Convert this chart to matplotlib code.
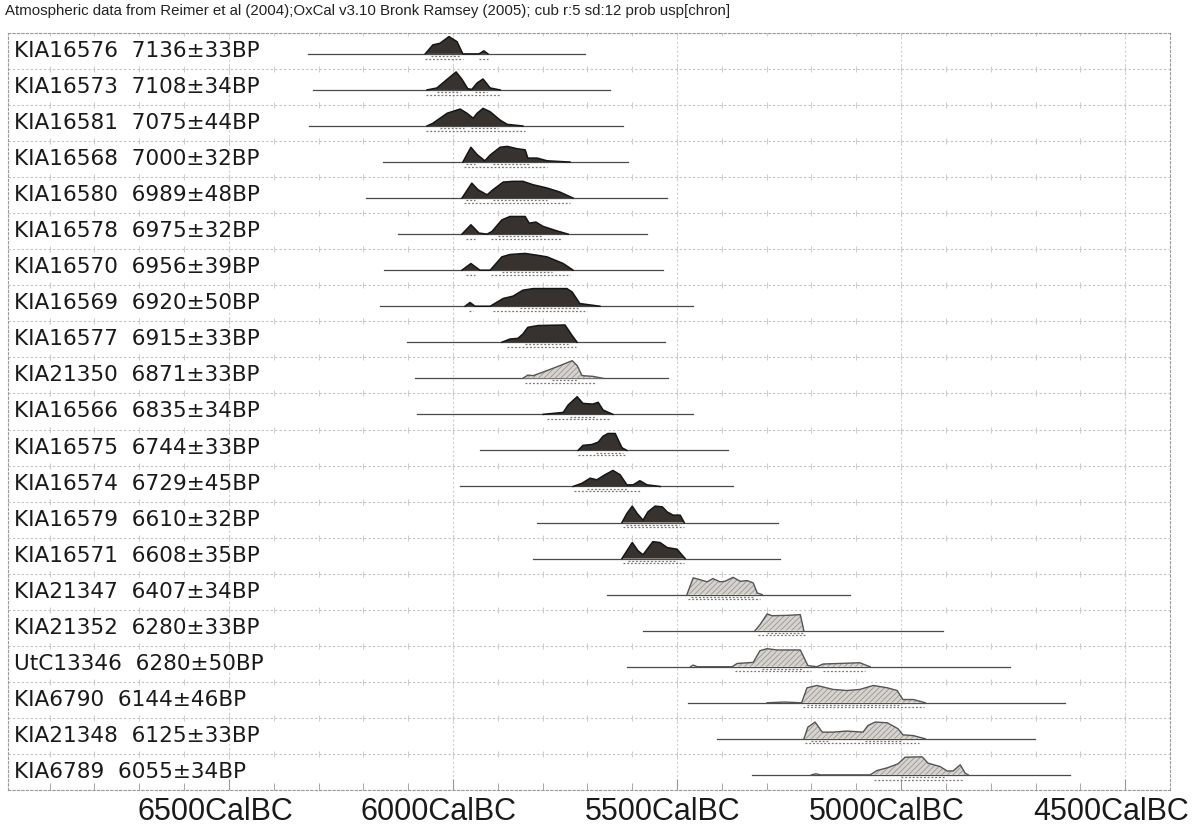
import matplotlib
matplotlib.use("Agg")
import matplotlib.pyplot as plt
import matplotlib.transforms as mtransforms
import numpy as np

# ---------------- data ----------------
title = ("Atmospheric data from Reimer et al (2004);OxCal v3.10 Bronk Ramsey (2005); "
         "cub r:5 sd:12 prob usp[chron]")

labels = [
    "KIA16576  7136±33BP", "KIA16573  7108±34BP", "KIA16581  7075±44BP",
    "KIA16568  7000±32BP", "KIA16580  6989±48BP", "KIA16578  6975±32BP",
    "KIA16570  6956±39BP", "KIA16569  6920±50BP", "KIA16577  6915±33BP",
    "KIA21350  6871±33BP", "KIA16566  6835±34BP", "KIA16575  6744±33BP",
    "KIA16574  6729±45BP", "KIA16579  6610±32BP", "KIA16571  6608±35BP",
    "KIA21347  6407±34BP", "KIA21352  6280±33BP", "UtC13346  6280±50BP",
    "KIA6790  6144±46BP", "KIA21348  6125±33BP", "KIA6789  6055±34BP",
]

# True = light (hatched) distribution, False = dark
light = [False, False, False, False, False, False, False, False, False, True,
         False, False, False, False, False, True, True, True, True, True, True]

# extent of the thin baseline of every row (cal BC)
line_start = [6324, 6312, 6321, 6156, 6194, 6123, 6154, 6163, 6103, 6085, 6080,
              5940, 5984, 5813, 5821, 5656, 5576, 5612, 5475, 5411, 5333]
line_end = [5705, 5650, 5621, 5609, 5522, 5567, 5531, 5464, 5527, 5520, 5464,
            5386, 5375, 5275, 5270, 5114, 4906, 4757, 4634, 4701, 4623]

# probability distributions: years (cal BC) and relative probability
dist_years = [
    [6062, 6045, 6029, 6009, 5991, 5978, 5942, 5931, 5922],
    [6058, 6036, 6013, 5993, 5980, 5967, 5958, 5946, 5933, 5917, 5895],
    [6058, 6045, 6013, 5984, 5969, 5955, 5946, 5933, 5917, 5895, 5879, 5844],
    [5978, 5960, 5946, 5929, 5917, 5895, 5879, 5857, 5839, 5833, 5812, 5790, 5739],
    [5980, 5958, 5944, 5924, 5911, 5888, 5866, 5844, 5821, 5790, 5761, 5732],
    [5980, 5960, 5942, 5924, 5913, 5891, 5873, 5839, 5830, 5815, 5799, 5768, 5743],
    [5980, 5960, 5940, 5917, 5891, 5873, 5839, 5812, 5790, 5754, 5732],
    [5973, 5962, 5951, 5917, 5888, 5866, 5844, 5821, 5746, 5734, 5717, 5672],
    [5891, 5873, 5855, 5844, 5833, 5810, 5750, 5734, 5723],
    [5844, 5833, 5821, 5790, 5761, 5734, 5723, 5712, 5688, 5665],
    [5799, 5754, 5743, 5723, 5710, 5688, 5676, 5665, 5643],
    [5721, 5710, 5690, 5676, 5665, 5654, 5638, 5623, 5612],
    [5732, 5712, 5694, 5679, 5661, 5643, 5627, 5612, 5598, 5583, 5567, 5538],
    [5623, 5612, 5600, 5589, 5576, 5565, 5549, 5533, 5522, 5509, 5493, 5484],
    [5623, 5600, 5587, 5576, 5554, 5538, 5522, 5500, 5482],
    [5478, 5464, 5449, 5433, 5420, 5404, 5393, 5375, 5359, 5344, 5330, 5321, 5310],
    [5326, 5315, 5299, 5288, 5254, 5225, 5217],
    [5470, 5464, 5455, 5377, 5366, 5330, 5315, 5299, 5277, 5225, 5208, 5188, 5174,
     5092, 5076, 5069],
    [5299, 5260, 5222, 5210, 5188, 5152, 5121, 5092, 5062, 5031, 5009, 4996, 4973, 4946],
    [5217, 5208, 5192, 5176, 5152, 5121, 5085, 5074, 5058, 5031, 5007, 4996, 4973, 4946],
    [5200, 5190, 5180, 5069, 5054, 5031, 5007, 4991, 4953, 4940, 4913, 4897, 4884,
     4868, 4857, 4850],
]
dist_prob = [
    [0, 0.50, 0.59, 0.96, 0.68, 0, 0, 0.17, 0],
    [0, 0.11, 0.59, 1.00, 0.59, 0.07, 0.03, 0.39, 0.61, 0.11, 0],
    [0, 0.15, 0.71, 0.94, 0.71, 0.43, 0.71, 0.98, 0.79, 0.33, 0.09, 0],
    [0, 0.82, 0.41, 0.07, 0.39, 0.82, 0.87, 0.74, 0.68, 0.22, 0.22, 0.07, 0],
    [0, 0.83, 0.46, 0.18, 0.46, 0.89, 0.93, 0.93, 0.74, 0.56, 0.33, 0],
    [0, 0.52, 0.06, 0, 0.15, 0.79, 0.98, 0.98, 0.61, 0.67, 0.43, 0.18, 0],
    [0, 0.37, 0, 0, 0.74, 0.87, 0.93, 0.83, 0.74, 0.37, 0],
    [0, 0.21, 0, 0, 0.43, 0.56, 0.89, 0.98, 0.98, 0.79, 0.15, 0],
    [0, 0.18, 0.22, 0.46, 0.83, 0.93, 0.96, 0.37, 0],
    [0, 0.18, 0.15, 0.43, 0.71, 0.98, 0.71, 0.15, 0.11, 0],
    [0, 0.11, 0.52, 0.98, 0.61, 0.57, 0.67, 0.24, 0],
    [0, 0.28, 0.33, 0.46, 0.79, 0.94, 0.94, 0.15, 0],
    [0, 0.18, 0.46, 0.37, 0.65, 0.89, 0.65, 0.09, 0.09, 0.32, 0.09, 0],
    [0, 0.50, 0.91, 0.50, 0.13, 0.59, 0.91, 0.87, 0.59, 0.41, 0.41, 0],
    [0, 0.89, 0.43, 0.21, 0.94, 0.89, 0.61, 0.52, 0],
    [0, 0.93, 0.83, 0.71, 0.89, 0.71, 0.74, 0.96, 0.74, 0.78, 0.65, 0.09, 0],
    [0, 0.33, 0.93, 0.83, 0.85, 0.89, 0],
    [0, 0.09, 0, 0, 0.18, 0.24, 0.89, 1.00, 0.93, 0.93, 0.06, 0, 0.15, 0.22, 0.06, 0],
    [0, 0.04, 0, 0.83, 0.96, 0.74, 0.68, 0.74, 0.96, 0.83, 0.68, 0.18, 0.18, 0],
    [0, 0.65, 0.93, 0.37, 0.37, 0.43, 0.37, 0.74, 0.93, 0.89, 0.56, 0.22, 0.18, 0],
    [0, 0.06, 0, 0, 0.24, 0.39, 0.61, 0.98, 1.00, 0.65, 0.46, 0.21, 0.22, 0.56, 0.09, 0],
]

# 68.2% and 95.4% ranges (cal BC)
range68 = [
    [(6050, 5985)], [(6035, 5985), (5950, 5925)], [(6030, 5975), (5960, 5900)],
    [(5970, 5950), (5910, 5830)], [(5970, 5950), (5910, 5790)], [(5900, 5800)],
    [(5890, 5780)], [(5850, 5720)], [(5840, 5740)], [(5780, 5720)], [(5740, 5680)],
    [(5680, 5620)], [(5700, 5610)], [(5615, 5495)], [(5610, 5500)], [(5470, 5330)],
    [(5300, 5220)], [(5310, 5220)], [(5210, 5000)], [(5200, 5160), (5080, 5000)],
    [(5000, 4900)],
]
range95 = [
    [(6062, 5978), (5942, 5922)], [(6060, 5895)], [(6060, 5840)], [(5975, 5790)],
    [(5975, 5740)], [(5970, 5950), (5915, 5760)], [(5970, 5950), (5915, 5740)],
    [(5965, 5955), (5910, 5700)], [(5880, 5725)], [(5840, 5680)], [(5790, 5650)],
    [(5720, 5615)], [(5730, 5580)], [(5620, 5485)], [(5620, 5485)], [(5475, 5315)],
    [(5320, 5215)], [(5370, 5200), (5175, 5080)], [(5220, 4950)], [(5215, 4960)],
    [(5060, 4860)],
]

major_ticks = [6500, 6000, 5500, 5000, 4500]

# ---------------- drawing ----------------
W, H = 1192, 832
fig = plt.figure(figsize=(W / 100, H / 100), dpi=100)
ax = fig.add_axes([8 / W, 42 / H, 1162 / W, 757 / H])

n = len(labels)
ax.set_xlim(-6993, -4400)
ax.set_ylim(n, 0)

dark_fill = "#37322e"
light_fill = "#d6d2ce"
base_off = 0.58
scale = 0.50

plt.rcParams["hatch.linewidth"] = 0.5
plt.rcParams["hatch.color"] = "#8f8b87"

# row separators and grid
for i in range(n + 1):
    ax.axhline(i, color="#c2c2c2", lw=0.8, ls=(0, (2, 2)), zorder=0)
for t in major_ticks:
    ax.axvline(-t, color="#cfcfcf", lw=0.8, ls=(0, (2, 2)), zorder=0)
minor_x = [-y for y in range(6900, 4400, -100)]
for i in range(n):
    ax.plot(minor_x, [i] * len(minor_x), ls="none", marker="|", ms=5,
            color="#cccccc", mew=0.7, zorder=0)

for i in range(n):
    base = i + base_off
    ax.plot([-line_start[i], -line_end[i]], [base, base], color="#4a4a4a",
            lw=0.9, zorder=2)
    xs = -np.array(dist_years[i], dtype=float)
    ys = base - scale * np.array(dist_prob[i], dtype=float)
    if light[i]:
        ax.fill_between(xs, base, ys, facecolor=light_fill, edgecolor="#8f8b87",
                        hatch="//////", lw=0, zorder=3)
        ax.plot(xs, ys, color="#555555", lw=1.0, zorder=4)
    else:
        ax.fill_between(xs, base, ys, facecolor=dark_fill, edgecolor="none",
                        lw=0, zorder=3)
        ax.plot(xs, ys, color="#151515", lw=1.1, zorder=4)
    for a, b in range68[i]:
        ax.plot([-a, -b], [base + 0.06, base + 0.06], color="#777777", lw=0.9,
                ls=(0, (1.5, 1.5)), zorder=2)
    for a, b in range95[i]:
        ax.plot([-a, -b], [base + 0.13, base + 0.13], color="#777777", lw=0.9,
                ls=(0, (1.5, 1.5)), zorder=2)

    ax.text(6 / 1162, i + 0.5, labels[i], transform=mtransforms.blended_transform_factory(
        ax.transAxes, ax.transData), va="center", ha="left", fontsize=15.6,
        family="DejaVu Sans", color="#1a1a1a")

# spines
for s in ax.spines.values():
    s.set_linestyle((0, (2, 2)))
    s.set_color("#9a9a9a")
    s.set_linewidth(0.8)

ax.set_yticks([])
ax.set_xticks([-t for t in major_ticks])
ax.set_xticklabels([f"{t}CalBC" for t in major_ticks], fontsize=22,
                   family="Liberation Sans", color="#1a1a1a")
ax.set_xticks(minor_x, minor=True)
ax.tick_params(axis="x", which="major", direction="in", length=8, color="#999999",
               pad=5)
ax.tick_params(axis="x", which="minor", direction="in", length=5, color="#999999")
off = mtransforms.ScaledTranslation(-14 / 100, 0, fig.dpi_scale_trans)
for lab in ax.get_xticklabels():
    lab.set_transform(lab.get_transform() + off)

fig.text(5 / W, 1 - 11 / H, title, fontsize=10.8, family="Liberation Sans",
         va="center", ha="left", color="#222222")

fig.savefig("out.png", dpi=100, facecolor="white")
